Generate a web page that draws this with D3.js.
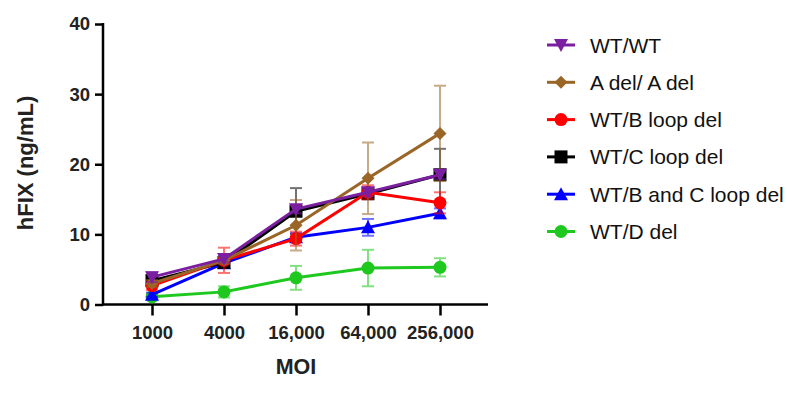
<!DOCTYPE html>
<html>
<head>
<meta charset="utf-8">
<script src="https://cdn.jsdelivr.net/npm/d3@7"></script>
<style>
  body { margin: 0; background: #fff; }
  svg { font-family: "Liberation Sans", Arial, sans-serif; }
</style>
</head>
<body>
<div id="chart"></div>
<script>
// categorias del eje x
var moi = ["1000", "4000", "16,000", "64,000", "256,000"];
var yTicks = [0, 10, 20, 30, 40];

// series (legend order)
var names = ["WT/WT", "A del/ A del", "WT/B loop del", "WT/C loop del", "WT/B and C loop del", "WT/D del"];
var colors = ["#7a1fa0", "#9a6628", "#ff0000", "#000000", "#0000ff", "#1ec81e"];
var symbols = ["triDown", "diamond", "circle", "square", "triUp", "circle"];

var wtwt     = [3.9, 6.5, 13.6, 16.0, 18.5];
var adel     = [3.0, 6.3, 11.3, 18.0, 24.4];
var bloop    = [2.7, 6.3, 9.4, 16.0, 14.5];
var cloop    = [3.4, 6.0, 13.3, 15.8, 18.5];
var bcloop   = [1.4, 5.9, 9.6, 11.0, 13.0];
var ddel     = [1.1, 1.8, 3.8, 5.2, 5.3];

var wtwtErr   = [0.7, 0.5, 0.6, 0.6, 0.6];
var adelErr   = [0.5, 0.5, 3.6, 5.1, 6.8];
var bloopErr  = [0.6, 1.8, 1.0, 1.0, 1.5];
var cloopErr  = [0.6, 0.5, 3.3, 0.6, 3.7];
var bcloopErr = [0.3, 0.4, 0.6, 1.2, 0.7];
var ddelErr   = [0.3, 0.8, 1.7, 2.6, 1.3];

var values = [wtwt, adel, bloop, cloop, bcloop, ddel];
var errors = [wtwtErr, adelErr, bloopErr, cloopErr, bcloopErr, ddelErr];

var width = 808, height = 393;

var svg = d3.select("#chart").append("svg")
  .attr("width", width)
  .attr("height", height);

var x = d3.scalePoint()
  .domain(moi)
  .range([104, 488])
  .padding(2 / 3);

var y = d3.scaleLinear()
  .domain([0, 40])
  .range([304.5, 24]);

// simbolos
function drawSymbol(g, type, color, cx, cy) {
  if (type === "circle") {
    g.append("circle").attr("cx", cx).attr("cy", cy).attr("r", 6.5).attr("fill", color);
  } else if (type === "square") {
    g.append("rect").attr("x", cx - 6.5).attr("y", cy - 6.5).attr("width", 13).attr("height", 13).attr("fill", color);
  } else if (type === "diamond") {
    g.append("path").attr("d", `M${cx},${cy - 6.5}L${cx + 6.5},${cy}L${cx},${cy + 6.5}L${cx - 6.5},${cy}Z`).attr("fill", color);
  } else if (type === "triUp") {
    g.append("path").attr("d", `M${cx},${cy - 7}L${cx + 7},${cy + 6}L${cx - 7},${cy + 6}Z`).attr("fill", color);
  } else if (type === "triDown") {
    g.append("path").attr("d", `M${cx - 7},${cy - 6}L${cx + 7},${cy - 6}L${cx},${cy + 7}Z`).attr("fill", color);
  }
}

// ejes
var xAxis = svg.append("g")
  .attr("transform", `translate(0,${y(0)})`)
  .call(d3.axisBottom(x).tickSizeOuter(0).tickSize(11).tickPadding(10));
xAxis.select(".domain").attr("stroke-width", 2.5).attr("d", "M103,0H488");
xAxis.selectAll(".tick line").attr("stroke-width", 2.5);
xAxis.selectAll("text")
  .attr("font-size", 18.5).attr("font-weight", "bold")
  .attr("font-family", "Liberation Sans, Arial, sans-serif")
  .attr("fill", "#222");

var yAxis = svg.append("g")
  .attr("transform", "translate(103,0)")
  .call(d3.axisLeft(y).tickValues(yTicks).tickSizeOuter(0).tickSize(8).tickPadding(5));
yAxis.select(".domain").attr("stroke-width", 2.5).attr("d", "M0,23V305.5");
yAxis.selectAll(".tick line").attr("stroke-width", 2.5);
yAxis.selectAll("text")
  .attr("font-size", 18.5).attr("font-weight", "bold")
  .attr("font-family", "Liberation Sans, Arial, sans-serif")
  .attr("fill", "#222");

svg.append("text")
  .attr("x", x("16,000"))
  .attr("y", 374)
  .attr("text-anchor", "middle")
  .attr("font-size", 21.5).attr("font-weight", "bold")
  .attr("fill", "#222")
  .text("MOI");

svg.append("text")
  .attr("transform", "translate(33,163) rotate(-90)")
  .attr("text-anchor", "middle")
  .attr("font-size", 22).attr("font-weight", "bold")
  .attr("fill", "#222")
  .text("hFIX (ng/mL)");

// dibujar series (de atras hacia adelante)
var order = [5, 4, 3, 2, 1, 0];
var line = d3.line()
  .x(function(d, i) { return x(moi[i]); })
  .y(function(d) { return y(d); });

order.forEach(function(s) {
  var g = svg.append("g");
  var c = colors[s];
  values[s].forEach(function(v, i) {
    var cx = x(moi[i]);
    var e = errors[s][i];
    var eg = g.append("g").attr("stroke", c).attr("stroke-width", 2).attr("opacity", 0.55);
    eg.append("line").attr("x1", cx).attr("x2", cx).attr("y1", y(v - e)).attr("y2", y(v + e));
    eg.append("line").attr("x1", cx - 6).attr("x2", cx + 6).attr("y1", y(v + e)).attr("y2", y(v + e));
    eg.append("line").attr("x1", cx - 6).attr("x2", cx + 6).attr("y1", y(v - e)).attr("y2", y(v - e));
  });
  g.append("path")
    .datum(values[s])
    .attr("d", line)
    .attr("fill", "none")
    .attr("stroke", c)
    .attr("stroke-width", 3);
  values[s].forEach(function(v, i) {
    drawSymbol(g, symbols[s], c, x(moi[i]), y(v));
  });
});

// leyenda
var legend = svg.append("g");
names.forEach(function(n, i) {
  var cy = 45 + i * 37.3;
  legend.append("line")
    .attr("x1", 547).attr("x2", 575)
    .attr("y1", cy).attr("y2", cy)
    .attr("stroke", colors[i]).attr("stroke-width", 3);
  drawSymbol(legend, symbols[i], colors[i], 561, cy);
  legend.append("text")
    .attr("x", 590)
    .attr("y", cy + 7.5)
    .attr("font-size", 21)
    .attr("fill", "#111")
    .text(n);
});
</script>
</body>
</html>
